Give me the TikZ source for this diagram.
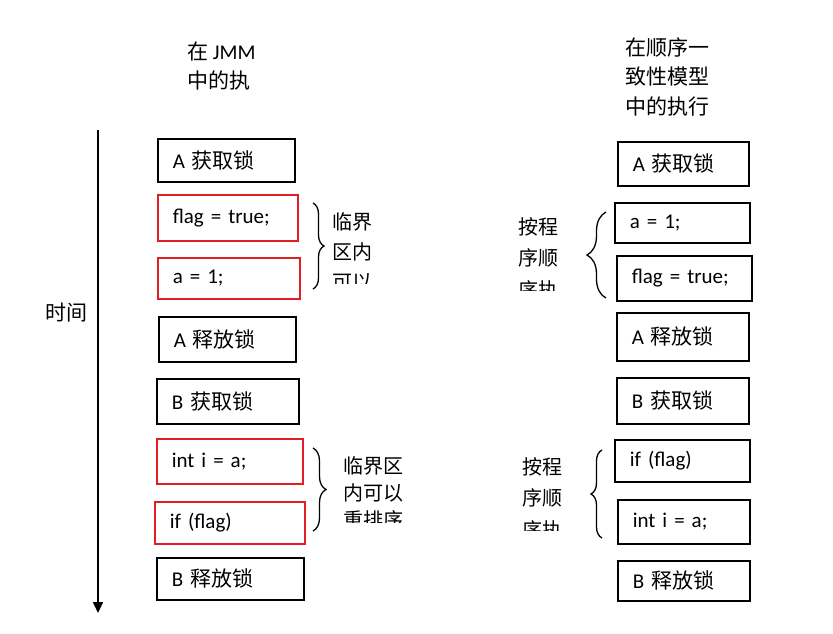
\documentclass[tikz,border=0pt]{standalone}
\usepackage{fontspec}
\setmainfont{Carlito}
\newfontfamily\cjk{Noto Sans CJK SC}
\usetikzlibrary{arrows.meta,decorations.pathreplacing}
\definecolor{boxred}{RGB}{225,30,35}

\begin{document}
\begin{tikzpicture}
  [x=1pt,y=-1pt,
   every node/.style={inner sep=0pt,font=\fontsize{21}{28}\selectfont},
   op/.style={draw=#1,line width=1.6pt,anchor=north west,align=left,inner xsep=15pt},
   note/.style={anchor=west,align=left},
   brc/.style={decorate,decoration={brace,amplitude=#1},line width=1.3pt}]
  \useasboundingbox (0,0) rectangle (833,633);

  % column titles and time axis
  \node[note,font=\fontsize{21}{28.5}\selectfont] (jmm) at (187,66) {{\cjk 在} JMM\\{\cjk 中的执}};
  \node[note,font=\fontsize{21}{29.7}\selectfont\cjk] (sc) at (625,76.7) {在顺序一\\致性模型\\中的执行};
  \node[note,font=\fontsize{21}{28}\selectfont\cjk] (time) at (45,313) {时间};
  \coordinate (t0) at (98,130);
  \coordinate (t1) at (98,613);
  \draw[line width=1.6pt,-{Triangle[length=11pt,width=10pt]}] (t0) -- (t1);

  % operations in the JMM
  \foreach \n/\x/\y/\w/\h/\c/\t [evaluate=\w as \tw using \w-30] in
  {l1/157/138/137/43/black/{A {\cjk 获取锁}},
   l2/157/194/140/46/boxred/{flag = true;},
   l3/157/257/142/41/boxred/{a = 1;},
   l4/158/316/137/45/black/{A {\cjk 释放锁}},
   l5/156/378/142/45/black/{B {\cjk 获取锁}},
   l6/156/438/146/45/boxred/{int i = a;},
   l7/154/501/150/42/boxred/{if (flag)},
   l8/156/557/147/42/black/{B {\cjk 释放锁}}}
    \node[op=\c,text width=\tw pt,minimum height=\h pt] (\n) at (\x,\y) {\t};

  % operations in sequential consistency
  \foreach \n/\x/\y/\w/\h/\t [evaluate=\w as \tw using \w-30] in
  {r1/617/141/131/44/{A {\cjk 获取锁}},
   r2/614/202/135/40/{a = 1;},
   r3/616/255/135/45/{flag = true;},
   r4/616/312/132/48/{A {\cjk 释放锁}},
   r5/616/377/132/46/{B {\cjk 获取锁}},
   r6/614/439/135/42/{if (flag)},
   r7/617/499/132/44/{int i = a;},
   r8/617/560/132/40/{B {\cjk 释放锁}}}
    \node[op=black,text width=\tw pt,minimum height=\h pt] (\n) at (\x,\y) {\t};

  % braces
  \coordinate (b1a) at (313,203);
  \coordinate (b1b) at (313,289);
  \coordinate (b2a) at (313,448);
  \coordinate (b2b) at (313,531);
  \coordinate (b3a) at (606,298);
  \coordinate (b3b) at (606,212);
  \coordinate (b4a) at (602,538);
  \coordinate (b4b) at (602,450);
  \draw[brc=11pt] (b1a) -- (b1b);
  \draw[brc=13pt] (b2a) -- (b2b);
  \draw[brc=19pt] (b3a) -- (b3b);
  \draw[brc=11pt] (b4a) -- (b4b);

  % brace notes, cut off at the bottom
  \begin{scope}
    \clip (320,195) rectangle (430,283);
    \node[note,font=\fontsize{20}{30}\selectfont\cjk] (cs1) at (332,251.7) {临界\\区内\\可以};
  \end{scope}
  \begin{scope}
    \clip (330,440) rectangle (440,522);
    \node[note,font=\fontsize{20}{27}\selectfont\cjk] (cs2) at (343,493.3) {临界区\\内可以\\重排序};
  \end{scope}
  \begin{scope}
    \clip (500,200) rectangle (585,290);
    \node[note,font=\fontsize{20}{31.6}\selectfont\cjk] (po1) at (518,258.3) {按程\\序顺\\序执};
  \end{scope}
  \begin{scope}
    \clip (500,440) rectangle (588,530);
    \node[note,font=\fontsize{20}{31.6}\selectfont\cjk] (po2) at (522,498.3) {按程\\序顺\\序执};
  \end{scope}
\end{tikzpicture}
\end{document}
